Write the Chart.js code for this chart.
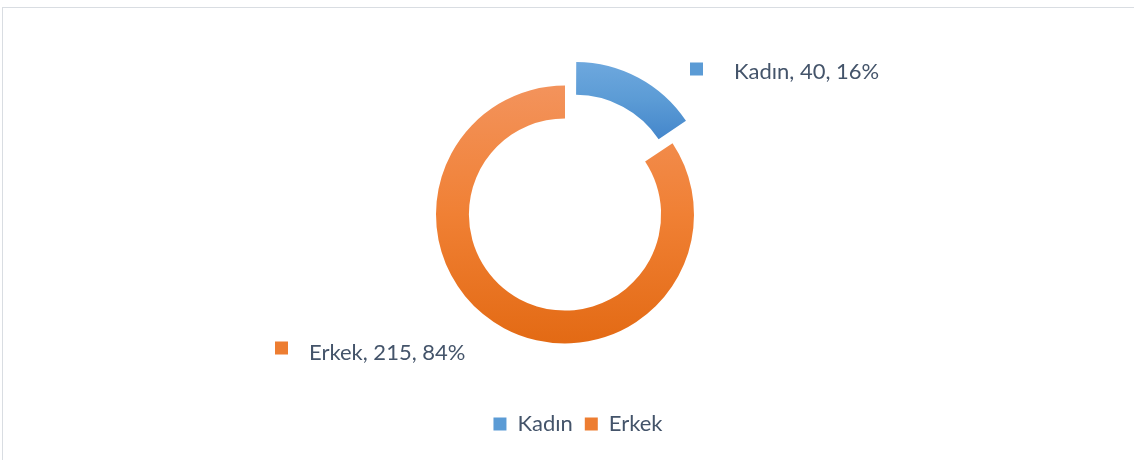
<!DOCTYPE html>
<html>
<head>
<meta charset="utf-8">
<script src="https://cdn.jsdelivr.net/npm/chart.js@4"></script>
<style>
	html, body { margin: 0; padding: 0; background: #fff; }
	#wrap { position: relative; width: 1134px; height: 460px; overflow: hidden; }
	#frame { position: absolute; left: 2px; top: 7px; width: 1200px; height: 520px; border: 1px solid #d9dde2; }
	canvas { position: absolute; left: 0; top: 0; }
</style>
</head>
<body>
<div id="wrap">
	<div id="frame"></div>
	<canvas id="genderChart" width="1134" height="460"></canvas>
</div>
<script>
// Data
const categories = ["Kadın", "Erkek"];
const counts = [40, 215];
const percents = [16, 84];

// Colours (flat colour for markers, gradient stops for slices)
const markerColors = ["#5b9bd5", "#ed7d31"];
const gradientStops = [
	["#6ea8de", "#5b9bd5", "#4486cb"],
	["#f3935c", "#f08034", "#e36a14"],
];
const textColor = "#44546a";

const ringRadius = 129;
const legendShift = 13;

// label spots relative to the doughnut centre
const labelSpots = [
	{ boxX: 125, boxY: -152, textX: 169, textY: -136 },
	{ boxX: -290, boxY: 127, textX: -256, textY: 145 },
];

Chart.defaults.font.family = "Lato";

// gradient for each slice, top to bottom
function sliceFill(context) {
	const chart = context.chart;
	const area = chart.chartArea;
	const i = context.dataIndex;
	if (!area) return markerColors[i];
	const cy = (area.top + area.bottom) / 2;
	let y0 = cy - ringRadius;
	let y1 = cy + ringRadius;
	if (i === 0) {
		y0 = cy - ringRadius - 4;
		y1 = cy - 55;
	}
	const g = chart.ctx.createLinearGradient(0, y0, 0, y1);
	g.addColorStop(0, gradientStops[i][0]);
	g.addColorStop(0.5, gradientStops[i][1]);
	g.addColorStop(1, gradientStops[i][2]);
	return g;
}

// draws "Kadın, 40, 16%" style labels with little squares
const sliceLabels = {
	id: "sliceLabels",
	afterDatasetsDraw(chart) {
		const ctx = chart.ctx;
		const meta = chart.getDatasetMeta(0);
		ctx.save();
		meta.data.forEach(function (arc, i) {
			const spot = labelSpots[i];
			ctx.fillStyle = markerColors[i];
			ctx.fillRect(arc.x + spot.boxX, arc.y + spot.boxY, 13, 13);
			ctx.fillStyle = textColor;
			ctx.font = "22px Lato";
			ctx.textBaseline = "alphabetic";
			ctx.textAlign = "left";
			ctx.fillText(`${categories[i]}, ${counts[i]}, ${percents[i]}%`, arc.x + spot.textX, arc.y + spot.textY);
		});
		ctx.restore();
	},
};

// nudge legend to the right like the original
const legendNudge = {
	id: "legendNudge",
	afterLayout(chart) {
		if (chart.legend) {
			chart.legend.left += legendShift;
			chart.legend.right += legendShift;
		}
	},
};

const ctx = document.getElementById("genderChart").getContext("2d");

new Chart(ctx, {
	type: "doughnut",
	data: {
		labels: categories,
		datasets: [
			{
				data: counts,
				backgroundColor: sliceFill,
				borderWidth: 0,
				offset: [90, 0],
				hoverOffset: 0,
			},
		],
	},
	options: {
		responsive: false,
		animation: false,
		radius: ringRadius,
		cutout: "74.5%",
		layout: {
			padding: { top: 28, bottom: 15, left: 0, right: 4 },
		},
		plugins: {
			tooltip: { enabled: false },
			legend: {
				position: "bottom",
				labels: {
					boxWidth: 13,
					boxHeight: 13,
					padding: 12,
					color: textColor,
					font: { size: 22, family: "Lato" },
					generateLabels: function (chart) {
						return categories.map(function (c, i) {
							return {
								text: c,
								fillStyle: markerColors[i],
								strokeStyle: markerColors[i],
								lineWidth: 0,
								fontColor: textColor,
								index: i,
							};
						});
					},
				},
			},
		},
	},
	plugins: [sliceLabels, legendNudge],
});
</script>
</body>
</html>
